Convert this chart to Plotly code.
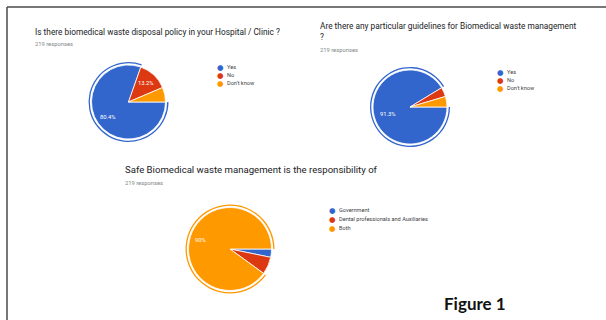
import plotly.graph_objects as go

W, H = 606, 320
BLUE, RED, ORANGE = "#3366CC", "#DC3912", "#FF9900"

# ---- data ----
q1_title = "Is there biomedical waste disposal policy in your Hospital / Clinic ?"
q1_labels = ["Yes", "No", "Don't know"]
q1_values = [80.4, 13.2, 6.4]

q2_title = "Are there any particular guidelines for Biomedical waste management<br>?"
q2_labels = ["Yes", "No", "Don't know"]
q2_values = [91.3, 4.1, 4.6]

q3_title = "Safe Biomedical waste management is the responsibility of"
q3_labels = ["Government", "Dental professionals and Auxiliaries", "Both"]
q3_values = [3.2, 6.8, 90.0]

responses = "219 responses"
colors = [BLUE, RED, ORANGE]

# ---- layout spec (pixels) ----
charts = [
    dict(title=q1_title, labels=q1_labels, values=q1_values, cx=128.5, cy=102, r=37,
         tx=33, ty=32, tsize=8.3, ry=44,
         lx=220, ly=67, ldy=8, lab_pos={0: (108, 117), 1: (146, 83)}),
    dict(title=q2_title, labels=q2_labels, values=q2_values, cx=410, cy=107, r=37,
         tx=318, ty=32, tsize=8.3, ry=50,
         lx=500, ly=72, ldy=8, lab_pos={0: (388, 114)}),
    dict(title=q3_title, labels=q3_labels, values=q3_values, cx=230, cy=249, r=41.5,
         tx=123, ty=169, tsize=9.6, ry=183,
         lx=332, ly=210, ldy=9, lab_pos={2: (200, 240)}),
]


def dom(cx, cy, R):
    return dict(x=[(cx - R) / W, (cx + R) / W], y=[1 - (cy + R) / H, 1 - (cy - R) / H])


fig = go.Figure()
annotations = []
for c in charts:
    vals = c["values"]
    big = vals.index(max(vals))
    # main pie
    fig.add_trace(go.Pie(
        labels=c["labels"], values=vals, sort=False, direction="clockwise", rotation=90,
        marker=dict(colors=colors, line=dict(color="white", width=0.8)),
        textinfo="none", hoverinfo="label+percent", showlegend=False,
        domain=dom(c["cx"], c["cy"], c["r"]),
    ))
    # highlight ring around the largest slice
    ring_cols = [col if i == big else "rgba(0,0,0,0)" for i, col in enumerate(colors)]
    Rr = c["r"] + 3
    fig.add_trace(go.Pie(
        labels=c["labels"], values=vals, sort=False, direction="clockwise", rotation=90,
        marker=dict(colors=ring_cols, line=dict(width=0)),
        hole=(Rr - 1.3) / Rr, textinfo="none", hoverinfo="skip", showlegend=False,
        domain=dom(c["cx"], c["cy"], Rr),
    ))
    # titles
    annotations.append(dict(text=c["title"], x=c["tx"] / W, y=1 - c["ty"] / H,
                            xref="paper", yref="paper", xanchor="left", yanchor="middle",
                            align="left", showarrow=False,
                            font=dict(family="Roboto", size=c["tsize"], color="#202124")))
    annotations.append(dict(text=responses, x=c["tx"] / W, y=1 - c["ry"] / H,
                            xref="paper", yref="paper", xanchor="left", yanchor="middle",
                            showarrow=False,
                            font=dict(family="Roboto", size=5.8, color="#80868b")))
    # legend entries
    for i, (lab, col) in enumerate(zip(c["labels"], colors)):
        yy = 1 - (c["ly"] + i * c["ldy"]) / H
        annotations.append(dict(text="●", x=c["lx"] / W, y=yy, xref="paper", yref="paper",
                                xanchor="center", yanchor="middle", showarrow=False,
                                font=dict(family="DejaVu Sans", size=7.5, color=col)))
        annotations.append(dict(text=lab, x=(c["lx"] + 5) / W, y=yy, xref="paper", yref="paper",
                                xanchor="left", yanchor="middle", showarrow=False,
                                font=dict(family="Roboto", size=5.6, color="#3c4043")))
    # percentage labels
    for i, (px, py) in c["lab_pos"].items():
        annotations.append(dict(text=f"{vals[i]:g}%", x=px / W, y=1 - py / H,
                                xref="paper", yref="paper", xanchor="center", yanchor="middle",
                                showarrow=False,
                                font=dict(family="Roboto", size=5.8, color="white")))

annotations.append(dict(text="<b>Figure 1</b>", x=442 / W, y=1 - 303 / H, xref="paper", yref="paper",
                        xanchor="left", yanchor="middle", showarrow=False,
                        font=dict(family="Lato", size=17, color="#111111")))

fig.update_layout(
    width=W, height=H, margin=dict(l=0, r=0, t=0, b=0),
    paper_bgcolor="white", plot_bgcolor="white",
    annotations=annotations,
    shapes=[
        dict(type="line", xref="paper", yref="paper", x0=7 / W, x1=1, y0=1 - 7 / H, y1=1 - 7 / H,
             line=dict(color="#4a4a4a", width=1.5)),
        dict(type="line", xref="paper", yref="paper", x0=7 / W, x1=7 / W, y0=1 - 7 / H, y1=0,
             line=dict(color="#4a4a4a", width=1.5)),
    ],
)

fig.write_html("out.html")
